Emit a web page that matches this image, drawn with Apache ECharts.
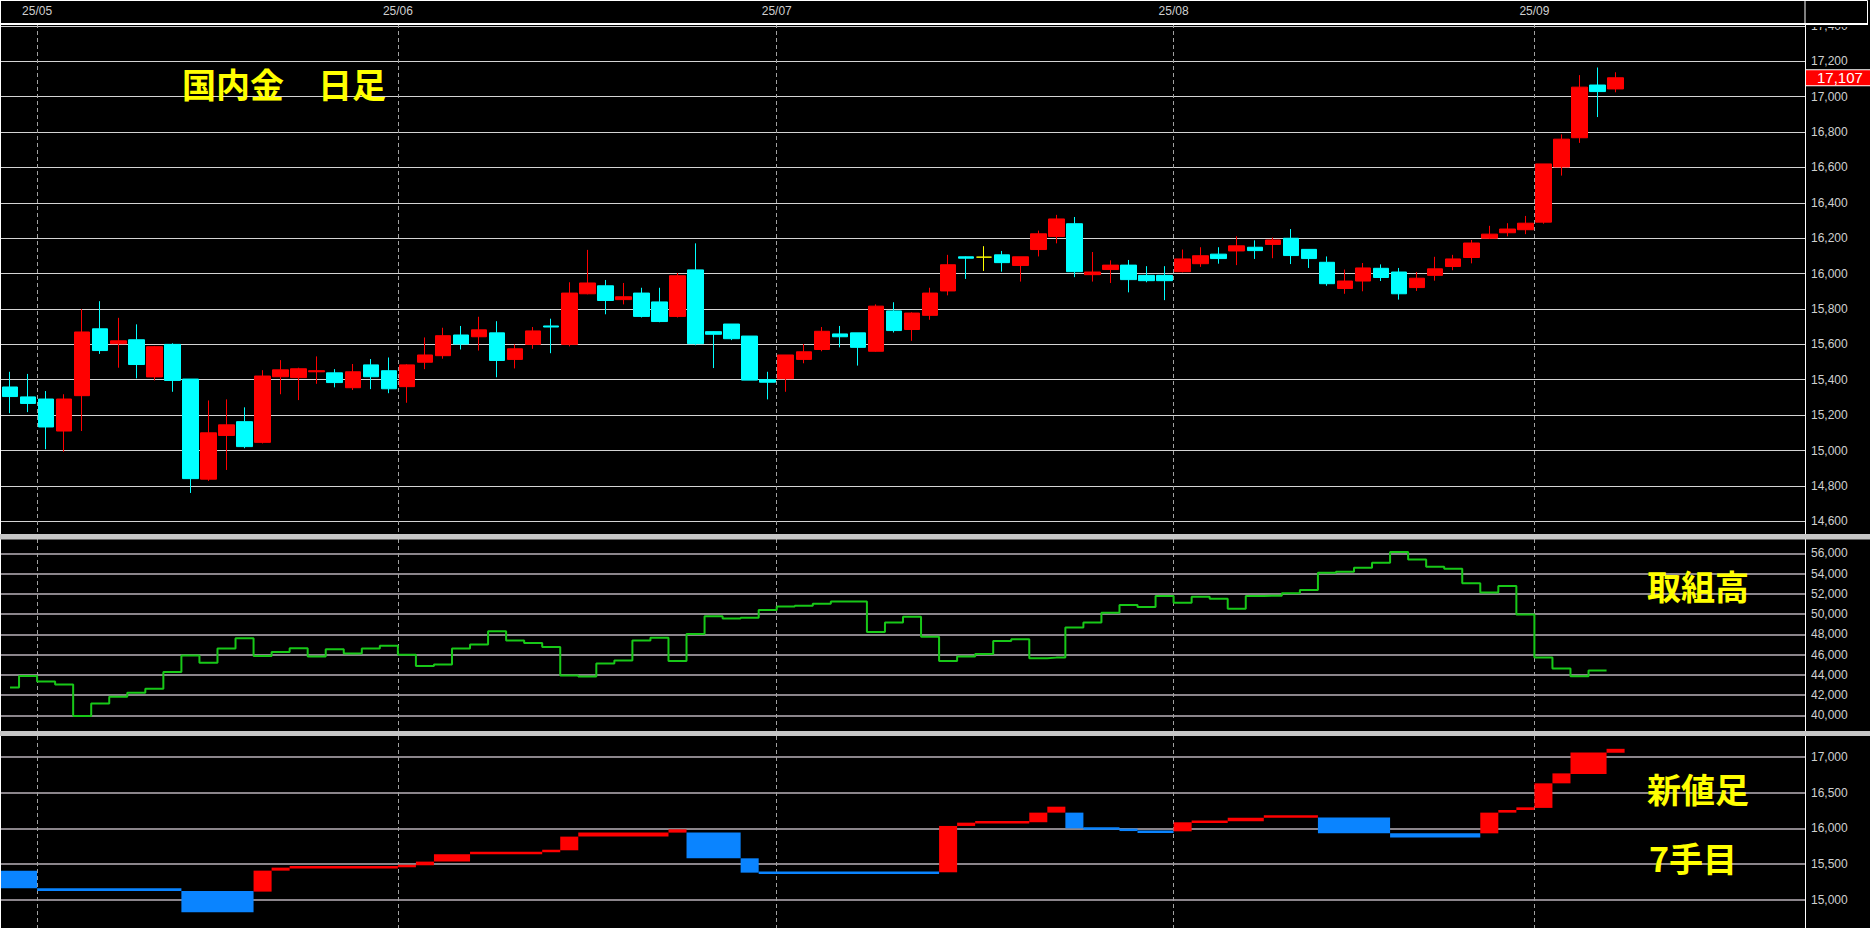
<!DOCTYPE html>
<html><head><meta charset="utf-8">
<script src="https://cdn.jsdelivr.net/npm/echarts@6/dist/echarts.min.js"></script>
<style>html,body{margin:0;padding:0;background:#000;}#c{width:1870px;height:928px;}</style>
</head><body><div id="c"></div><script>
// ---- categories (trading days) ----
const dates = [
'2025/04/28','2025/04/30',
'2025/05/01','2025/05/02','2025/05/07','2025/05/08','2025/05/09','2025/05/12','2025/05/13','2025/05/14','2025/05/15','2025/05/16',
'2025/05/19','2025/05/20','2025/05/21','2025/05/22','2025/05/23','2025/05/26','2025/05/27','2025/05/28','2025/05/29','2025/05/30',
'2025/06/02','2025/06/03','2025/06/04','2025/06/05','2025/06/06','2025/06/09','2025/06/10','2025/06/11','2025/06/12','2025/06/13',
'2025/06/16','2025/06/17','2025/06/18','2025/06/19','2025/06/20','2025/06/23','2025/06/24','2025/06/25','2025/06/26','2025/06/27','2025/06/30',
'2025/07/01','2025/07/02','2025/07/03','2025/07/04','2025/07/07','2025/07/08','2025/07/09','2025/07/10','2025/07/11',
'2025/07/14','2025/07/15','2025/07/16','2025/07/17','2025/07/18','2025/07/22','2025/07/23','2025/07/24','2025/07/25',
'2025/07/28','2025/07/29','2025/07/30','2025/07/31',
'2025/08/01','2025/08/04','2025/08/05','2025/08/06','2025/08/07','2025/08/08','2025/08/12','2025/08/13','2025/08/14','2025/08/15',
'2025/08/18','2025/08/19','2025/08/20','2025/08/21','2025/08/22','2025/08/25','2025/08/26','2025/08/27','2025/08/28','2025/08/29',
'2025/09/01','2025/09/02','2025/09/03','2025/09/04','2025/09/05'
];
const padDates = ['2025/09/08','2025/09/09','2025/09/10','2025/09/11','2025/09/12','2025/09/16','2025/09/17','2025/09/18','2025/09/19','2025/09/22'];

// ---- daily candles ----
const opens = [15359,15303,15291,15110,15310,15688,15604,15626,15416,15600,
15404,14838,15085,15163,15046,15417,15412,15445,15439,15355,
15484,15451,15361,15499,15536,15653,15643,15665,15515,15600,
15704,15600,15886,15931,15853,15890,15840,15758,16021,15672,
15715,15647,15400,15406,15515,15571,15659,15665,15561,15789,
15684,15764,15902,16095,16093,16106,16046,16136,16210,16282,
15994,16023,16048,15990,15990,16011,16056,16110,16128,16149,
16165,16200,16137,16064,15916,15958,16030,16009,15921,15990,
16040,16091,16200,16231,16248,16291,16603,16768,17066,17044];
const closes = [15305,15266,15133,15291,15670,15565,15620,15486,15587,15396,
14841,15100,15145,15022,15421,15456,15462,15451,15384,15445,
15417,15349,15484,15540,15649,15602,15682,15509,15575,15676,
15698,15890,15947,15848,15869,15758,15729,15988,15604,15657,
15632,15398,15386,15540,15558,15674,15643,15583,15816,15678,
15777,15890,16050,16087,16093,16062,16095,16225,16309,16011,
16009,16048,15966,15960,15960,16083,16101,16085,16157,16130,
16190,16102,16085,15943,15958,16032,15978,15886,15974,16027,
16083,16173,16223,16252,16285,16620,16760,17054,17029,17107];
const highs = [15445,15433,15336,15318,15799,15844,15750,15713,15591,15606,
15404,15283,15289,15244,15454,15511,15468,15532,15460,15489,
15517,15526,15488,15639,15694,15704,15756,15731,15600,15698,
15745,15951,16134,15964,15947,15920,15920,16003,16171,15674,
15715,15647,15445,15540,15602,15698,15704,15665,15826,15838,
15781,15920,16106,16097,16155,16128,16095,16243,16332,16320,
16122,16075,16077,16042,16042,16136,16149,16149,16211,16188,
16204,16252,16137,16097,16023,16060,16052,16032,16009,16095,
16106,16190,16270,16285,16326,16620,16787,17122,17165,17138];
const lows = [15211,15217,15007,14993,15110,15546,15468,15408,15396,15332,
14760,14828,14890,15013,15040,15318,15285,15377,15357,15342,
15347,15324,15270,15460,15519,15571,15565,15414,15464,15575,
15550,15589,15883,15770,15826,15752,15725,15752,15595,15466,
15624,15398,15289,15332,15493,15561,15583,15480,15558,15667,
15620,15739,15877,15970,16015,16011,15955,16097,16171,15980,
15955,15947,15894,15951,15850,16007,16038,16056,16048,16083,
16087,16054,16032,15931,15886,15900,15958,15853,15902,15960,
16019,16058,16196,16211,16223,16282,16554,16739,16885,17025];

// ---- open interest (取組高) ----
const openInterest = [42733,43885,43326,43030,39935,41153,41844,42239,42634,44280,
45894,45202,46585,47605,45861,46256,46618,45795,46519,46091,
46585,46881,45992,44873,45005,46585,46980,48297,47375,47144,
46750,43919,43820,45104,45400,47375,47671,45367,48033,49778,
49548,49646,50404,50733,50831,51029,51227,51227,48231,49153,
49745,47770,45367,45795,46058,47342,47506,45630,45696,48659,
49153,50140,50897,50700,51786,51128,51720,51523,50535,51786,
51819,52050,52379,54091,54189,54584,55078,56132,55375,54683,
54486,53037,52116,52774,49943,45696,44610,43853,44412,null];

// ---- 新値足 blocks: first day index, from price, to price ----
const shinStart = [0,2,10,14,15,16,22,23,24,26,30,31,32,37,38,41,42,52,53,54,57,58,59,60,62,63,65,66,68,70,73,77,82,83,84,85,86,87,89];
const shinFrom  = [15409,15163,15126,15116,15409,15451,15463,15484,15535,15637,15674,15693,15884,15940,15940,15581,15384,15386,16033,16079,16085,16219,16219,16005,15995,15963,15958,16084,16098,16149,16150,15930,15930,16219,16256,16285,16628,16760,17055];
const shinTo    = [15163,15126,14828,15409,15451,15463,15484,15535,15637,15674,15693,15884,15940,15986,15581,15381,15372,16033,16079,16093,16219,16302,16000,15991,15963,15940,16084,16098,16149,16181,15930,15870,16219,16256,16293,16628,16767,17060,17110];

// ---- tick values ----
const priceTicks = [14600,14800,15000,15200,15400,15600,15800,16000,16200,16400,16600,16800,17000,17200,17400];
const oiTicks = [40000,42000,44000,46000,48000,50000,52000,54000,56000];
const shinTicks = [15000,15500,16000,16500,17000];

const cats = dates.concat(padDates);
const fmt = v => String(v).replace(/\B(?=(\d{3})+(?!\d))/g, ',');
function isMonthStart(i){ return i > 0 && cats[i].slice(5,7) !== cats[i-1].slice(5,7); }

const candleData = opens.map((o,i)=>{
  const item = {value:[o, closes[i], lows[i], highs[i]]};
  if (o === closes[i]) item.itemStyle = {color:'#ffff00', color0:'#ffff00', borderColor:'#ffff00', borderColor0:'#ffff00', borderColorDoji:'#ffff00'};
  return item;
});
const shinData = shinStart.map((s,k)=>[s, k+1 < shinStart.length ? shinStart[k+1] : dates.length, shinFrom[k], shinTo[k]]);

const axisFont = "'Liberation Sans Narrow','Liberation Sans',Arial,sans-serif";
function makeX(gi, top){
  return {type:'category', gridIndex:gi, data:cats, boundaryGap:true, position:'top',
    axisLine:{show:top, lineStyle:{color:'#ffffff', width:2}}, axisTick:{show:false},
    axisLabel:{show:top, interval:(i)=>isMonthStart(i), formatter:(v)=>v.slice(2,4)+'/'+v.slice(5,7),
      color:'#d0d0d0', fontSize:12, fontFamily:axisFont, margin:7, padding:[0,18,0,0]},
    splitLine:{show:true, interval:(i)=>isMonthStart(i), lineStyle:{color:'#a0a0a0', width:1, type:[4,3]}}};
}
function makeY(gi, min, max, ticks, gridColor, gridWidth){
  return {type:'value', gridIndex:gi, position:'right', min:min, max:max,
    axisLine:{show:true, lineStyle:{color:'#ffffff', width:1}},
    axisTick:{show:false, customValues:ticks},
    axisLabel:{customValues:ticks, formatter:fmt, color:'#d0d0d0', fontSize:12, fontFamily:axisFont, margin:6},
    splitLine:{show:true, lineStyle:{color:gridColor, width:gridWidth}}};
}

const chart = echarts.init(document.getElementById('c'), null, {renderer:'svg'});
chart.setOption({
  backgroundColor:'#000000',
  animation:false,
  grid:[
    {left:1, right:65, top:24, height:510},
    {left:1, right:65, top:539, height:192},
    {left:1, right:65, top:736, height:192}
  ],
  xAxis:[makeX(0,true), makeX(1,false), makeX(2,false)],
  yAxis:[
    makeY(0, 14528, 17411, priceTicks, '#d4d4d4', 1),
    makeY(1, 38449, 57412, oiTicks, '#bab2ba', 1.5),
    makeY(2, 14608, 17289, shinTicks, '#bab2ba', 1.5)
  ],
  series:[
    {type:'candlestick', xAxisIndex:0, yAxisIndex:0, data:candleData, barWidth:16, clip:false,
      itemStyle:{color:'#ff0000', color0:'#00ffff', borderColor:'#ff0000', borderColor0:'#00ffff', borderWidth:1},
      markLine:{symbol:['none','none'], silent:true, animation:false,
        data:[{yAxis: closes[closes.length-1]}],
        lineStyle:{color:'rgba(0,0,0,0)', width:0, type:'solid'},
        label:{show:true, position:'end', formatter:(p)=>fmt(p.value), color:'#ffffff', backgroundColor:'#ff0000',
          borderColor:'#ffffff', borderWidth:1, padding:[1,11,0,11], lineHeight:14, fontSize:15,
          fontFamily:"'Liberation Sans',Arial,sans-serif", distance:1}}},
    {type:'line', xAxisIndex:1, yAxisIndex:1, data:openInterest, step:'middle', showSymbol:false,
      lineStyle:{color:'#18c818', width:2}},
    {type:'custom', xAxisIndex:2, yAxisIndex:2, data:shinData, encode:{x:0, y:[2,3]},
      renderItem:function(params, api){
        const s = api.value(0), e = api.value(1), a = api.value(2), b = api.value(3);
        const p1 = api.coord([s, a]), p2 = api.coord([s, b]);
        const bw = api.size([1,0])[0];
        const x0 = p1[0] - bw/2;
        let y = Math.min(p1[1], p2[1]), h = Math.abs(p1[1]-p2[1]);
        if (h < 2.5) { y -= (2.5-h)/2; h = 2.5; }
        return {type:'rect', shape:{x:x0, y:y, width:bw*(e-s), height:h},
          style:{fill: b >= a ? '#ff0000' : '#0a84ff'}};
      }}
  ],
  graphic:[
    {type:'rect', shape:{x:1806, y:1, width:61, height:26}, style:{fill:'#000000'}, z:50},
    {type:'rect', shape:{x:0.5, y:0.5, width:1867, height:23.5}, style:{fill:null, stroke:'#ffffff', lineWidth:1}, z:60},
    {type:'line', shape:{x1:1805, y1:24, x2:1868, y2:24}, style:{stroke:'#ffffff', lineWidth:2}, z:60},
    {type:'line', shape:{x1:1805, y1:0, x2:1805, y2:24}, style:{stroke:'#ffffff', lineWidth:1}, z:60},
    {type:'line', shape:{x1:0.5, y1:0, x2:0.5, y2:928}, style:{stroke:'#ffffff', lineWidth:1}, z:60},
    {type:'rect', shape:{x:0, y:534, width:1870, height:5.5}, style:{fill:'#c6c6c6'}, z:70},
    {type:'rect', shape:{x:0, y:731, width:1870, height:5}, style:{fill:'#c6c6c6'}, z:70},
    {type:'text', x:182, y:83, z:80, style:{text:'国内金　日足', fill:'#ffff00', font:"bold 34px 'Noto Sans CJK JP'", textVerticalAlign:'middle'}},
    {type:'text', x:1647, y:585, z:80, style:{text:'取組高', fill:'#ffff00', font:"bold 34px 'Noto Sans CJK JP'", textVerticalAlign:'middle'}},
    {type:'text', x:1647, y:788, z:80, style:{text:'新値足', fill:'#ffff00', font:"bold 34px 'Noto Sans CJK JP'", textVerticalAlign:'middle'}},
    {type:'text', x:1649, y:857, z:80, style:{text:'7手目', fill:'#ffff00', font:"bold 34px 'Noto Sans CJK JP'", textVerticalAlign:'middle'}}
  ]
});
</script></body></html>
